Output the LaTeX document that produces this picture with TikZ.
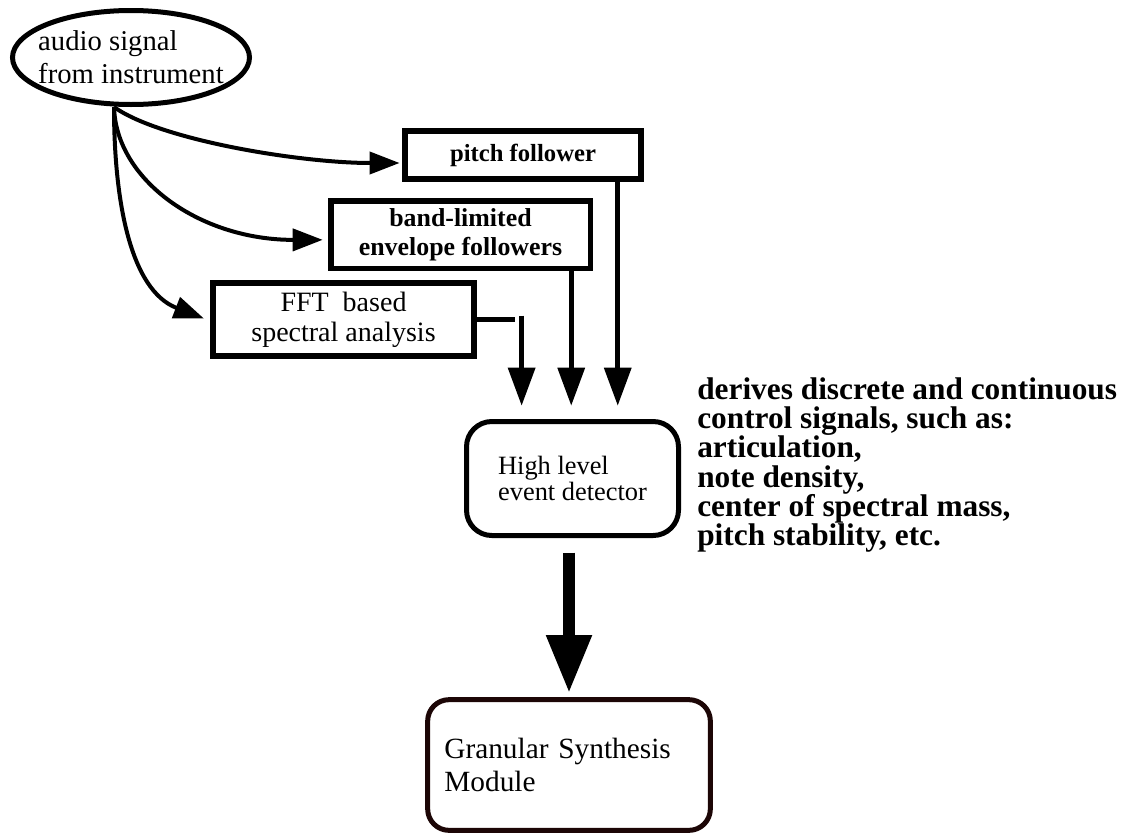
\documentclass[tikz,border=0pt]{standalone}
\usepackage{fontspec}
\setmainfont{Liberation Serif}
\usetikzlibrary{shapes.geometric,arrows.meta}
\definecolor{moduleline}{RGB}{28,6,6}
\newcommand\tightlines{\lineskiplimit=-20pt\relax}
\begin{document}
\begin{tikzpicture}[x=0.75pt,y=-0.75pt,
    proc/.style={draw, line width=4.1pt, inner sep=0pt, align=center},
    flow/.style={line width=3pt, -{Triangle[length=22.5pt,width=16.5pt]}},
    feed/.style={line width=3.4pt, shorten >=10pt, -{Triangle[length=28.5pt,width=20pt]}}]
    \useasboundingbox (0,0) rectangle (1145,835);

    \node[draw, ellipse, line width=3.75pt, minimum width=177.75pt, minimum height=70.5pt,
          inner xsep=-12pt, inner ysep=1pt, align=left,
          font=\fontsize{21.5}{24.75}\selectfont] (src) at (131,57.5) {audio signal\\from instrument};

    \node[proc, minimum width=177pt, minimum height=36pt,
          font=\bfseries\fontsize{18.5}{21}\selectfont] (pitch) at (523,155) {pitch follower};
    \node[proc, minimum width=194.6pt, minimum height=50.6pt,
          font=\bfseries\fontsize{19.4}{21.75}\selectfont] (band) at (460.5,234.5) {band-limited\\envelope followers};
    \node[proc, minimum width=196pt, minimum height=55pt,
          font=\fontsize{21}{22.5}\selectfont] (fft) at (343.5,319.5) {FFT\ \ based\\spectral analysis};

    \node[draw, rounded corners=19pt, line width=3.75pt, minimum width=159pt, minimum height=85.5pt,
          align=left, font=\fontsize{19.8}{18}\selectfont] (high) at (572.5,478.5) {High level\\event detector};
    \node[draw=moduleline, rounded corners=16pt, line width=3.75pt, minimum width=212pt, minimum height=98pt,
          text width=187pt, align=left, font=\fontsize{22}{25}\selectfont] (gran) at (569,765) {Granular Synthesis\\Module};

    \node[anchor=north west, align=left, inner sep=0pt,
          font=\bfseries\fontsize{23.5}{22}\selectfont\tightlines] (notes) at (697,377)
          {derives discrete and continuous\\control signals, such as:\\articulation,\\note density,\\center of spectral mass,\\pitch stability, etc.};

    \coordinate (tap) at ([xshift=-12.75pt]src.south);
    \draw[flow, shorten >=2pt] (tap) .. controls (160,140) and (300,163) .. ([yshift=-6pt]pitch.west);
    \draw[flow, shorten >=4pt] (tap) .. controls (116,180) and (200,240) .. ([yshift=-4pt]band.west);
    \draw[flow, shorten >=5pt] (tap) .. controls (114,200) and (130,290) .. ([yshift=-1pt]fft.west);

    \draw[feed] ([xshift=-19.5pt]pitch.south east) -- ([xshift=-19.5pt]pitch.south east |- high.north);
    \draw[feed] ([xshift=-16.3pt]band.south east) -- ([xshift=-16.3pt]band.south east |- high.north);
    \draw[feed] (fft.east) -- ++(28.3pt,0) ++(5.25pt,3pt) coordinate (drop) -- (drop |- high.north);

    \draw[line width=9pt, shorten <=11pt, shorten >=3pt, -{Triangle[length=43.5pt,width=32pt]}]
        (gran.north |- high.south) -- (gran.north);
\end{tikzpicture}
\end{document}
